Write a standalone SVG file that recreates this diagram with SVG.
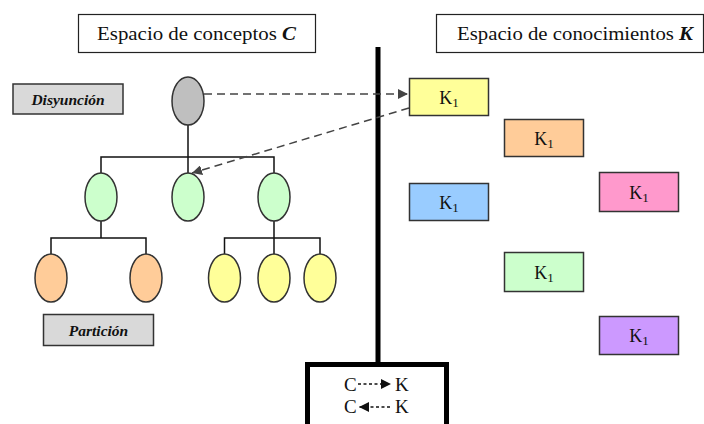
<svg xmlns="http://www.w3.org/2000/svg" width="704" height="424" viewBox="0 0 704 424">
  <style>
    .title { fill: #fff; stroke: #222; stroke-width: 1.2; }
    .label { fill: #d9d9d9; stroke: #333; stroke-width: 1.5; }
    .node { stroke: #333; stroke-width: 1.5; }
    .kbox { stroke: #333; stroke-width: 1.5; }
    .tree { fill: none; stroke: #111; stroke-width: 1.5; }
    .dash { fill: none; stroke: #444; stroke-width: 1.5; stroke-dasharray: 8 5; }
    .small-dash { fill: none; stroke: #111; stroke-width: 1.3; stroke-dasharray: 3 2.5; }
    .serif { font-family: "Liberation Serif", "Times New Roman", serif; fill: #111; }
    .tag { font-family: "Liberation Serif", "Times New Roman", serif; font-weight: bold; font-style: italic; font-size: 15.5px; fill: #111; }
    .k { font-family: "Liberation Serif", "Times New Roman", serif; font-size: 18px; fill: #111; text-anchor: middle; }
    .k tspan { font-size: 13px; }
  </style>
  <defs>
    <marker id="arrow" viewBox="0 0 10 10" refX="10" refY="5" markerWidth="10" markerHeight="10" markerUnits="userSpaceOnUse" orient="auto">
      <path d="M0,0 L10,5 L0,10 Z" fill="#444"/>
    </marker>
    <marker id="arrow-small" viewBox="0 0 10 10" refX="10" refY="5" markerWidth="10" markerHeight="10" markerUnits="userSpaceOnUse" orient="auto">
      <path d="M0,0 L10,5 L0,10 Z" fill="#111"/>
    </marker>
  </defs>

  <rect width="704" height="424" fill="#fff"/>

  <!-- space headers -->
  <g id="header-c">
    <rect class="title" x="78.5" y="14.5" width="237" height="38"/>
    <text class="serif" x="97" y="40" font-size="18.5" textLength="199" lengthAdjust="spacingAndGlyphs">Espacio de conceptos <tspan font-weight="bold" font-style="italic">C</tspan></text>
  </g>
  <g id="header-k">
    <rect class="title" x="436.5" y="14.5" width="267" height="38"/>
    <text class="serif" x="457" y="40" font-size="18.5" textLength="236" lengthAdjust="spacingAndGlyphs">Espacio de conocimientos <tspan font-weight="bold" font-style="italic">K</tspan></text>
  </g>

  <!-- side labels -->
  <g id="label-disyuncion">
    <rect class="label" x="13" y="84" width="110" height="30"/>
    <text class="tag" x="68" y="105" text-anchor="middle">Disyunción</text>
  </g>
  <g id="label-particion">
    <rect class="label" x="43.5" y="314.5" width="110" height="31"/>
    <text class="tag" x="98.5" y="335.5" text-anchor="middle">Partición</text>
  </g>

  <!-- divider between both spaces -->
  <g id="divider">
    <line x1="378" y1="47" x2="378" y2="364" stroke="#000" stroke-width="5"/>
    <rect x="307.5" y="364.5" width="139" height="70" fill="#fff" stroke="#000" stroke-width="5"/>
    <text class="serif" x="344" y="391" font-size="19">C</text>
    <text class="serif" x="395" y="391" font-size="19">K</text>
    <text class="serif" x="344" y="413" font-size="19">C</text>
    <text class="serif" x="395" y="413" font-size="19">K</text>
  </g>

  <!-- connectors -->
  <g id="connectors">
    <path class="tree" d="M188,125 V173 M101,173 V157 H274 V173"/>
    <path class="tree" d="M101,221 V238 M51,254 V238 H146 V254"/>
    <path class="tree" d="M274,221 V238 M224.5,254 V238 H320 V254 M274,238 V254"/>
    <line class="dash" x1="204" y1="94" x2="408" y2="94" marker-end="url(#arrow)"/>
    <line class="dash" x1="409" y1="108" x2="192" y2="173" marker-end="url(#arrow)"/>
    <line class="small-dash" x1="358" y1="384" x2="391" y2="384" marker-end="url(#arrow-small)"/>
    <line class="small-dash" x1="390" y1="407" x2="359" y2="407" marker-end="url(#arrow-small)"/>
  </g>

  <!-- concept tree -->
  <g id="concept-root"><ellipse class="node" cx="188" cy="101" rx="16" ry="24" fill="#bfbfbf"/></g>
  <g id="concept-a"><ellipse class="node" cx="101" cy="197" rx="16" ry="24" fill="#ccffcc"/></g>
  <g id="concept-b"><ellipse class="node" cx="188" cy="197" rx="16" ry="24" fill="#ccffcc"/></g>
  <g id="concept-c"><ellipse class="node" cx="274" cy="197" rx="16" ry="24" fill="#ccffcc"/></g>
  <g id="concept-a1"><ellipse class="node" cx="51" cy="278" rx="16" ry="24" fill="#ffcc99"/></g>
  <g id="concept-a2"><ellipse class="node" cx="146" cy="278" rx="16" ry="24" fill="#ffcc99"/></g>
  <g id="concept-c1"><ellipse class="node" cx="224.5" cy="278" rx="16" ry="24" fill="#ffff99"/></g>
  <g id="concept-c2"><ellipse class="node" cx="274" cy="278" rx="16" ry="24" fill="#ffff99"/></g>
  <g id="concept-c3"><ellipse class="node" cx="320" cy="278" rx="16" ry="24" fill="#ffff99"/></g>

  <!-- knowledge boxes -->
  <g id="k-yellow">
    <rect class="kbox" x="409.5" y="78.5" width="79" height="37" fill="#ffff99"/>
    <text class="k" x="449" y="104">K<tspan dy="3">1</tspan></text>
  </g>
  <g id="k-orange">
    <rect class="kbox" x="504.5" y="119.5" width="79" height="37" fill="#ffcc99"/>
    <text class="k" x="544" y="145">K<tspan dy="3">1</tspan></text>
  </g>
  <g id="k-blue">
    <rect class="kbox" x="409.5" y="183.5" width="79" height="37" fill="#99ccff"/>
    <text class="k" x="449" y="209">K<tspan dy="3">1</tspan></text>
  </g>
  <g id="k-pink">
    <rect class="kbox" x="599.5" y="172.5" width="79" height="39" fill="#ff99cc"/>
    <text class="k" x="639" y="199">K<tspan dy="3">1</tspan></text>
  </g>
  <g id="k-green">
    <rect class="kbox" x="504.5" y="252.5" width="79" height="39" fill="#ccffcc"/>
    <text class="k" x="544" y="279">K<tspan dy="3">1</tspan></text>
  </g>
  <g id="k-purple">
    <rect class="kbox" x="599.5" y="316.5" width="79" height="38" fill="#cc99ff"/>
    <text class="k" x="639" y="342">K<tspan dy="3">1</tspan></text>
  </g>
</svg>
